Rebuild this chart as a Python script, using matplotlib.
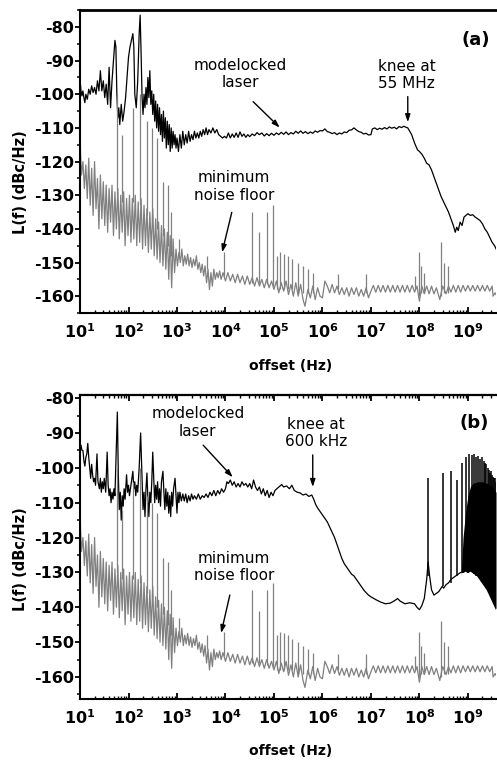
import numpy as np
import matplotlib
matplotlib.use('Agg')
import matplotlib.pyplot as plt
from matplotlib.ticker import LogLocator, MultipleLocator, FuncFormatter, NullFormatter

plt.rcParams['font.family'] = ['DejaVu Sans']
plt.rcParams['font.weight'] = 'bold'
plt.rcParams['axes.unicode_minus'] = False
plt.rcParams['mathtext.fontset'] = 'dejavusans'

# ---- data: log10(offset / Hz) and L(f) in dBc/Hz ----

# (a) modelocked laser
laser_a_logf = [1.00, 1.02, 1.04, 1.06, 1.08, 1.10, 1.12, 1.15, 1.18, 1.21,
                1.24, 1.27, 1.30, 1.33, 1.36, 1.39, 1.42, 1.45, 1.48, 1.51,
                1.54, 1.57, 1.60, 1.63, 1.66, 1.69, 1.72, 1.74, 1.76, 1.78,
                1.80, 1.82, 1.85, 1.88, 1.91, 1.94, 1.97, 2.00, 2.03, 2.06,
                2.09, 2.11, 2.13, 2.16, 2.19, 2.22, 2.24, 2.26, 2.28, 2.30,
                2.32, 2.34, 2.36, 2.38, 2.40, 2.42, 2.44, 2.46, 2.48, 2.50,
                2.52, 2.54, 2.56, 2.58, 2.60, 2.62, 2.64, 2.66, 2.68, 2.70,
                2.72, 2.74, 2.76, 2.78, 2.80, 2.82, 2.84, 2.86, 2.88, 2.90,
                2.92, 2.94, 2.96, 2.98, 3.00, 3.03, 3.06, 3.09, 3.12, 3.15,
                3.18, 3.21, 3.24, 3.27, 3.30, 3.33, 3.36, 3.39, 3.42, 3.45,
                3.48, 3.51, 3.54, 3.57, 3.60, 3.63, 3.66, 3.70, 3.74, 3.78,
                3.82, 3.86, 3.90, 3.94, 3.98, 4.02, 4.06, 4.10, 4.14, 4.18,
                4.22, 4.26, 4.30, 4.34, 4.38, 4.42, 4.46, 4.50, 4.55, 4.60,
                4.65, 4.70, 4.75, 4.80, 4.85, 4.90, 4.95, 5.00, 5.05, 5.10,
                5.15, 5.20, 5.25, 5.30, 5.35, 5.40, 5.45, 5.50, 5.55, 5.60,
                5.65, 5.70, 5.75, 5.80, 5.85, 5.90, 5.95, 6.00, 6.05, 6.10,
                6.15, 6.20, 6.25, 6.30, 6.35, 6.40, 6.45, 6.50, 6.55, 6.60,
                6.65, 6.70, 6.75, 6.80, 6.85, 6.90, 6.95, 7.00, 7.03, 7.08,
                7.13, 7.18, 7.23, 7.28, 7.33, 7.38, 7.43, 7.48, 7.53, 7.58,
                7.63, 7.68, 7.72, 7.76, 7.80, 7.84, 7.90, 7.96, 8.00, 8.05,
                8.10, 8.15, 8.20, 8.25, 8.30, 8.35, 8.40, 8.45, 8.50, 8.55,
                8.60, 8.65, 8.70, 8.74, 8.77, 8.80, 8.84, 8.88, 8.92, 8.96,
                9.00, 9.05, 9.10, 9.15, 9.20, 9.25, 9.30, 9.35, 9.40, 9.45,
                9.50, 9.55, 9.60]
laser_a_db = [-95.5, -99, -100.5, -99, -101, -102.5, -100, -101.5, -98.5, -100,
              -97.5, -99.5, -98, -100, -96, -99, -93, -99, -96, -101,
              -97, -103, -92, -104, -96, -90, -84, -86, -100, -107,
              -104, -109, -103, -108, -105, -101, -95, -89, -86, -84,
              -82, -86, -100, -104, -96, -82, -76.5, -88, -101, -106,
              -100, -104, -98, -103, -95, -101, -93, -103, -99, -106,
              -100, -108, -102, -110, -103, -111, -104, -112, -106, -114,
              -105, -113, -107, -116, -108, -115, -109, -117, -110, -116,
              -111, -115, -112, -116, -113, -117, -112, -116, -111, -115,
              -112, -114.5, -111, -114, -112, -113.5, -111, -113, -111.5, -113,
              -111, -112.5, -110.5, -112, -110, -112, -110.5, -111.5, -110, -111.5,
              -110.5, -112, -112.5, -113, -112.5, -113, -111.5, -113, -111.8, -112.8,
              -111.5, -112.8, -111.2, -112.5, -111.8, -112.8, -112, -112.6, -111.8, -112.3,
              -111.4, -112, -111.5, -112.4, -111.7, -112.3, -111.6, -112.2, -111.5, -112,
              -111.3, -111.9, -111.2, -112, -111.4, -111.8, -111, -111.6, -110.9, -111.6,
              -111.1, -111.7, -111.2, -111.6, -110.9, -111.3, -110.8, -110.9, -110.3, -111.1,
              -111.3, -111.7, -111.4, -112, -111.5, -111.8, -111.2, -111.4, -110.7, -110.6,
              -110, -110.6, -111.1, -111.3, -111.8, -111.6, -112.1, -112, -110.3, -110,
              -110.5, -110.1, -110.4, -109.9, -110.3, -109.7, -110.1, -109.8, -110.3, -109.6,
              -109.9, -109.5, -109.8, -110, -111, -112, -114.5, -116.5, -117, -117.8,
              -119, -120.5, -121, -122.5, -124.5, -126.5, -128.5, -130.5, -132, -133.5,
              -135, -137, -139, -141, -139.5, -140.5, -138, -139, -136.5, -136,
              -135.5, -136, -135.8, -136.5, -137, -137.5, -138.5, -140, -141, -142.5,
              -144, -145, -146.5]

# (b) modelocked laser
laser_b_logf = [1.00, 1.02, 1.04, 1.06, 1.08, 1.10, 1.12, 1.14, 1.16, 1.18,
                1.20, 1.22, 1.24, 1.26, 1.28, 1.30, 1.32, 1.35, 1.37, 1.40,
                1.42, 1.44, 1.46, 1.48, 1.50, 1.53, 1.56, 1.58, 1.60, 1.62,
                1.64, 1.66, 1.68, 1.70, 1.72, 1.745, 1.77, 1.79, 1.81, 1.83,
                1.85, 1.87, 1.89, 1.91, 1.93, 1.96, 1.98, 2.00, 2.02, 2.04,
                2.06, 2.09, 2.11, 2.13, 2.15, 2.17, 2.19, 2.22, 2.25, 2.28,
                2.30, 2.32, 2.34, 2.36, 2.38, 2.40, 2.42, 2.44, 2.46, 2.48,
                2.50, 2.52, 2.54, 2.56, 2.58, 2.60, 2.62, 2.64, 2.66, 2.68,
                2.71, 2.73, 2.75, 2.77, 2.79, 2.81, 2.83, 2.85, 2.87, 2.89,
                2.91, 2.93, 2.96, 2.98, 3.00, 3.02, 3.04, 3.06, 3.09, 3.12,
                3.15, 3.18, 3.21, 3.24, 3.27, 3.30, 3.33, 3.36, 3.40, 3.44,
                3.48, 3.52, 3.56, 3.60, 3.64, 3.68, 3.72, 3.76, 3.80, 3.84,
                3.88, 3.92, 3.96, 4.00, 4.03, 4.06, 4.10, 4.14, 4.18, 4.22,
                4.26, 4.30, 4.34, 4.38, 4.42, 4.46, 4.50, 4.54, 4.58, 4.62,
                4.66, 4.70, 4.74, 4.78, 4.82, 4.86, 4.90, 4.94, 4.98, 5.02,
                5.06, 5.10, 5.16, 5.20, 5.26, 5.32, 5.37, 5.42, 5.48, 5.54,
                5.60, 5.66, 5.72, 5.78, 5.82, 5.86, 5.90, 5.95, 6.00, 6.05,
                6.10, 6.15, 6.20, 6.25, 6.30, 6.35, 6.40, 6.45, 6.50, 6.55,
                6.60, 6.65, 6.70, 6.75, 6.80, 6.85, 6.90, 6.95, 7.00, 7.10,
                7.20, 7.30, 7.40, 7.50, 7.55, 7.60, 7.70, 7.80, 7.90, 7.95,
                8.00, 8.05, 8.10, 8.15, 8.18, 8.21, 8.25, 8.30, 8.35, 8.40,
                8.47, 8.50, 8.55, 8.60, 8.65, 8.70, 8.75, 8.80, 8.85, 8.90,
                8.95, 9.00, 9.05, 9.10, 9.15, 9.20, 9.25, 9.30, 9.35, 9.40,
                9.45, 9.50, 9.55, 9.60]
laser_b_db = [-94, -93.5, -95, -95, -98, -99.5, -97, -96, -93, -97,
              -100, -103, -99, -102, -104, -103, -105, -96, -104, -106,
              -103, -107, -104, -106, -103, -107, -95.5, -105, -108, -106,
              -110, -107, -109, -106, -108, -96, -84, -102, -112, -107,
              -115, -108, -111, -106, -109, -102, -107, -105, -108, -106,
              -104, -101, -106, -104, -108, -105, -107, -100, -90, -103,
              -112, -107, -114, -106, -101.5, -109, -114, -107, -110, -104,
              -95.5, -103, -110, -105, -109, -104, -110, -106, -111, -104,
              -101, -107, -112, -106, -111, -107, -113, -108, -114, -107,
              -111, -106, -103, -108, -113, -107, -110, -107, -109.5, -107.5,
              -109.5, -107.5, -110, -108, -109.5, -107.5, -109, -108, -109, -107.5,
              -109, -108, -108.5, -107.5, -108.5, -107, -108, -106.5, -108, -106.5,
              -107.5, -106, -107, -106, -104, -104.5, -103.5, -105, -104, -105.5,
              -104.5, -105.5, -104, -105, -104.5, -105.5, -104.5, -106, -103.5, -105.5,
              -106.5, -105.5, -107.5, -106, -108, -106.5, -108.5, -107, -108, -106.5,
              -106, -105.5, -104.8, -105.5, -105.2, -106, -105, -106.5, -107, -107.2,
              -107.8, -107.5, -108.2, -107.8, -109, -110.5, -111.5, -112.5, -113.5, -114.5,
              -115.5, -117, -118.5, -120, -122, -124, -126, -127.5, -128.5, -129.5,
              -130.5, -131, -132, -133, -134, -135, -135.8, -136.5, -137, -137.8,
              -138.5, -139, -138.8, -138, -137.5, -138.2, -139, -138.7, -139, -140,
              -140.7, -139.5, -137.5, -132, -127, -131, -135, -136.5, -136, -135.5,
              -134, -134.5, -133.5, -133, -132, -131.5, -131, -130.5, -130, -130,
              -129.5, -130, -129.5, -130, -130.5, -131, -132, -133, -134, -135,
              -136.5, -138, -139.5, -141]

# (b) comb of lines above 100 MHz
comb_f = [1.5e8, 3.0e8, 4.5e8, 6.0e8, 7.5e8, 9.0e8, 1.05e9, 1.2e9, 1.35e9,
          1.5e9, 1.65e9, 1.8e9, 1.95e9, 2.1e9, 2.25e9, 2.4e9, 2.55e9, 2.7e9,
          2.85e9, 3.0e9, 3.15e9, 3.3e9, 3.45e9, 3.6e9, 3.75e9]
comb_top = [-103, -101.5, -101, -103.5, -98.5, -97, -96, -96.3, -96,
            -97, -96.5, -97.5, -97, -98, -98.5, -99, -100, -100.5,
            -101.5, -101, -102, -102.5, -103, -103, -104]
comb_low = [-131, -134, -133, -131, -130, -129.5, -130, -130, -130.5,
            -131, -131, -132, -132.5, -133, -134, -134.5, -135, -136,
            -136.5, -137, -137.5, -138, -138.5, -139, -139.5]
comb_band_logf = [8.86, 8.90, 8.95, 9.00, 9.05, 9.10, 9.20, 9.30, 9.40, 9.50, 9.58]
comb_band_high = [-131, -120, -113, -108, -105.5, -104.5, -104, -104, -104.5, -105.5, -107]
comb_band_low = [-130, -130, -129.5, -130, -129.5, -130, -131, -133, -135, -138, -140.5]

# minimum noise floor (same measurement in both panels)
floor_logf = [1.00, 1.01, 1.03, 1.06, 1.09, 1.12, 1.15, 1.18, 1.21, 1.24,
              1.27, 1.30, 1.33, 1.36, 1.39, 1.42, 1.45, 1.48, 1.51, 1.54,
              1.57, 1.60, 1.63, 1.66, 1.69, 1.72, 1.75, 1.78, 1.81, 1.84,
              1.87, 1.90, 1.93, 1.96, 1.99, 2.02, 2.05, 2.08, 2.11, 2.14,
              2.17, 2.20, 2.23, 2.26, 2.29, 2.32, 2.35, 2.38, 2.41, 2.44,
              2.47, 2.50, 2.53, 2.56, 2.59, 2.62, 2.65, 2.68, 2.71, 2.74,
              2.77, 2.80, 2.83, 2.86, 2.89, 2.92, 2.95, 2.98, 3.01, 3.04,
              3.07, 3.10, 3.13, 3.16, 3.19, 3.22, 3.25, 3.28, 3.31, 3.34,
              3.37, 3.40, 3.43, 3.46, 3.49, 3.52, 3.55, 3.58, 3.61, 3.64,
              3.67, 3.70, 3.73, 3.76, 3.79, 3.82, 3.85, 3.88, 3.91, 3.95,
              4.00, 4.05, 4.10, 4.15, 4.20, 4.25, 4.30, 4.35, 4.40, 4.45,
              4.50, 4.55, 4.60, 4.65, 4.70, 4.75, 4.80, 4.85, 4.90, 4.95,
              5.00, 5.05, 5.10, 5.15, 5.20, 5.25, 5.30, 5.35, 5.40, 5.45,
              5.50, 5.55, 5.60, 5.64, 5.70, 5.75, 5.80, 5.85, 5.90, 5.95,
              6.00, 6.05, 6.10, 6.15, 6.20, 6.25, 6.30, 6.35, 6.40, 6.45,
              6.50, 6.55, 6.60, 6.65, 6.70, 6.75, 6.80, 6.85, 6.90, 6.95,
              7.00, 7.05, 7.10, 7.15, 7.20, 7.25, 7.30, 7.35, 7.40, 7.45,
              7.50, 7.55, 7.60, 7.65, 7.70, 7.75, 7.80, 7.85, 7.90, 7.95,
              8.00, 8.05, 8.10, 8.15, 8.20, 8.25, 8.30, 8.35, 8.42, 8.48,
              8.55, 8.60, 8.65, 8.70, 8.75, 8.80, 8.85, 8.90, 8.95, 9.00,
              9.05, 9.10, 9.15, 9.20, 9.25, 9.30, 9.35, 9.40, 9.45, 9.50,
              9.52, 9.56, 9.60]
floor_db = [-110, -117, -124, -120, -128, -121, -131, -119, -133, -122,
            -136, -120, -134, -125, -140, -124, -137, -126, -139, -127,
            -141, -128, -138, -127, -142, -129, -140, -128, -143, -130,
            -141, -129, -145, -131, -142, -130, -144, -131, -143, -130,
            -145, -132, -144, -131, -146, -133, -145, -134, -147, -135,
            -146, -134, -148, -137, -149, -138, -150, -139, -151, -140,
            -152, -141, -155, -142, -157.5, -143, -153, -146, -151, -147,
            -150, -146, -151, -148, -150.5, -147.5, -151, -148.5, -151.5, -149,
            -151, -148, -152, -150, -153, -150.5, -154, -151, -156, -152,
            -158, -153, -157, -152, -155, -153, -154.5, -152.5, -155, -153,
            -155.5, -153, -155.5, -153.5, -156, -153.5, -156, -154, -156.5, -154,
            -156.5, -154.5, -157, -154.5, -157, -155, -157.5, -155, -157.5, -155.5,
            -158, -155.5, -159, -156, -158.5, -155.5, -159.5, -156.5, -160, -156,
            -160, -156.5, -161, -163, -158, -160.5, -157, -161, -157.5, -160,
            -160.5, -155.5, -157, -159, -156.5, -159, -157, -159.5, -157.5, -159.5,
            -157.5, -160, -157.5, -159.5, -157.5, -160, -158, -160, -157.5, -160.5,
            -158.5, -156.8, -158.8, -156.8, -158.8, -156.8, -158.8, -156.8, -158.8, -156.8,
            -158.8, -156.8, -158.8, -156.8, -158.8, -156.8, -158.8, -156.8, -158.8, -157,
            -161.5, -157, -159.3, -157, -159.3, -157, -159.3, -157.5, -161, -157,
            -159.3, -157, -158.8, -156.8, -158.8, -156.8, -158.8, -156.8, -158.5, -156.8,
            -158.5, -156.8, -158.5, -156.8, -158.5, -156.8, -158.5, -156.8, -158.5, -157,
            -160, -159, -160]

# spurs on the noise floor: position, foot, tip
spur_logf = [1.76, 1.86, 2.09, 2.24, 2.38, 2.48, 2.59, 2.71, 2.81, 2.87,
             3.05, 3.62, 3.97, 4.55, 4.69, 4.86, 4.98, 5.06, 5.12, 5.20,
             5.29, 5.37, 5.49, 5.60, 5.70, 5.80, 6.32, 6.90, 7.91, 7.99,
             8.03, 8.09, 8.44, 8.50, 8.59]
spur_low = [-130, -132, -132, -133, -136, -137, -140, -142, -145, -148,
            -148, -152, -154, -156, -156, -156.5, -157, -158, -158, -158,
            -158, -158, -159, -159, -159, -159, -158, -159, -158, -160,
            -159, -159, -160, -159, -159]
spur_high = [-100, -112, -104, -100, -108, -110, -113, -126, -127, -135,
             -143, -148, -147, -135, -141, -135, -133, -148, -147, -147.5,
             -148, -149, -150, -151, -152, -153, -153.5, -153.5, -154, -147,
             -151, -153, -144, -150, -151]

BLACK = '#000000'
GREY = '#808080'


def hz(logf):
    return 10 ** np.asarray(logf)


def style_axes(ax, ylim, top_ticks):
    ax.set_xscale('log')
    ax.set_xlim(10, 3.8e9)
    ax.set_ylim(*ylim)
    ax.xaxis.set_major_locator(LogLocator(base=10, numticks=20))
    ax.xaxis.set_minor_locator(LogLocator(base=10, subs=np.arange(2, 10), numticks=20))
    ax.xaxis.set_minor_formatter(NullFormatter())
    ax.xaxis.set_major_formatter(
        FuncFormatter(lambda v, p: r'$\mathbf{10^{%d}}$' % int(round(np.log10(v)))))
    ax.yaxis.set_major_locator(MultipleLocator(10))
    ax.yaxis.set_minor_locator(MultipleLocator(5))
    ax.tick_params(axis='y', which='major', direction='out', length=3.5, width=1.3,
                   labelsize=11.5, pad=1)
    ax.tick_params(axis='y', which='minor', direction='out', length=2.5, width=1.1)
    ax.tick_params(axis='x', which='major', direction='in', length=4, width=1.3,
                   labelsize=11.5, pad=7, top=top_ticks)
    ax.tick_params(axis='x', which='minor', direction='in', length=2.5, width=1.0,
                   top=top_ticks)
    ax.spines['right'].set_visible(False)
    for s in ('left', 'bottom'):
        ax.spines[s].set_linewidth(1.5)
    ax.spines['top'].set_linewidth(2.0 if not top_ticks else 1.6)
    ax.set_xlabel('offset (Hz)', fontsize=10, fontweight='bold')
    ax.set_ylabel('L(f) (dBc/Hz)', fontsize=10.5, fontweight='bold')


def note(ax, text, xy):
    ax.text(xy[0], xy[1], text, fontsize=11, fontweight='normal',
            ha='center', va='center', multialignment='center')


def arrow(ax, tail, tip):
    ax.annotate('', xy=tip, xytext=tail,
                arrowprops=dict(arrowstyle='-|>,head_length=0.45,head_width=0.15',
                                color=BLACK, lw=1.0, shrinkA=0, shrinkB=0,
                                mutation_scale=10))


fig = plt.figure(figsize=(4.97, 7.61), dpi=100)

# ---- panel (a) ----
ax1 = fig.add_axes([0.161, 0.5887, 0.837, 0.398])
ax1.plot(hz(laser_a_logf), laser_a_db, color=BLACK, lw=0.9)
ax1.plot(hz(floor_logf), floor_db, color=GREY, lw=0.9)
ax1.vlines(hz(spur_logf), spur_low, spur_high, color=GREY, lw=0.9)
style_axes(ax1, (-165, -75), top_ticks=False)
ax1.xaxis.set_label_coords(0.507, -0.152)
ax1.yaxis.set_label_coords(-0.125, 0.432)

note(ax1, 'modelocked\nlaser', (hz(4.30), -93.9))
arrow(ax1, (hz(4.57), -102.2), (hz(5.12), -109.9))
note(ax1, 'knee at\n55 MHz', (hz(7.74), -94.2))
arrow(ax1, (hz(7.76), -100.7), (hz(7.76), -108.3))
note(ax1, 'minimum\nnoise floor', (hz(4.18), -127.4))
arrow(ax1, (hz(4.13), -135.1), (hz(3.93), -147.0))
ax1.text(hz(9.16), -83.9, '(a)', fontsize=13, fontweight='bold', ha='center', va='center')

# ---- panel (b) ----
ax2 = fig.add_axes([0.161, 0.0815, 0.837, 0.3995])
ax2.fill_between(hz(comb_band_logf), comb_band_low, comb_band_high, color=BLACK, lw=0)
ax2.plot(hz(laser_b_logf), laser_b_db, color=BLACK, lw=0.9)
ax2.vlines(comb_f, comb_low, comb_top, color=BLACK, lw=1.1)
ax2.plot(hz(floor_logf), floor_db, color=GREY, lw=0.9)
ax2.vlines(hz(spur_logf), spur_low, spur_high, color=GREY, lw=0.9)
style_axes(ax2, (-166.3, -79.1), top_ticks=True)
ax2.xaxis.set_label_coords(0.507, -0.148)
ax2.yaxis.set_label_coords(-0.125, 0.461)

note(ax2, 'modelocked\nlaser', (hz(3.43), -87.0))
arrow(ax2, (hz(3.54), -93.5), (hz(4.15), -102.7))
note(ax2, 'knee at\n600 kHz', (hz(5.87), -90.0))
arrow(ax2, (hz(5.80), -96.3), (hz(5.80), -105.5))
note(ax2, 'minimum\nnoise floor', (hz(4.18), -128.5))
arrow(ax2, (hz(4.09), -136.5), (hz(3.91), -147.4))
ax2.text(hz(9.14), -87.2, '(b)', fontsize=13, fontweight='bold', ha='center', va='center')

fig.savefig('out.png', dpi=100)
